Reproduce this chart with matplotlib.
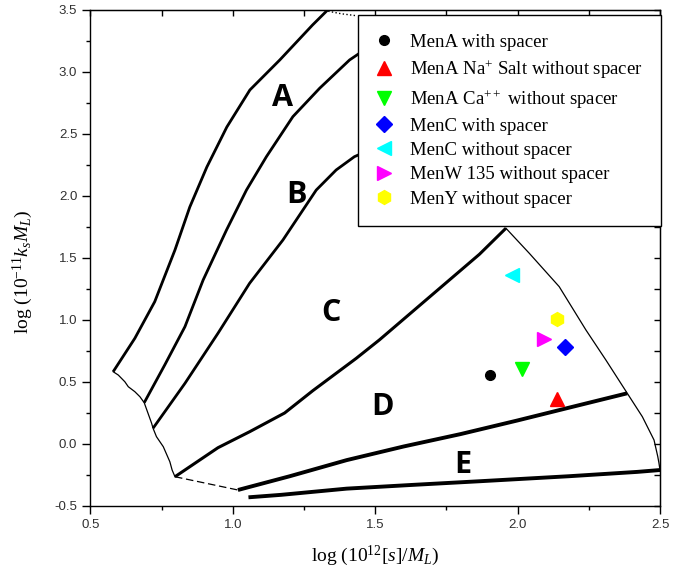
import matplotlib
matplotlib.use('Agg')
import matplotlib.pyplot as plt
from matplotlib.ticker import MultipleLocator

# zone boundaries
curve_a_x = [0.580, 0.656, 0.726, 0.797, 0.849, 0.909, 0.979, 1.060, 1.165, 1.280, 1.333]
curve_a_y = [0.583, 0.852, 1.148, 1.565, 1.911, 2.234, 2.556, 2.855, 3.097, 3.379, 3.500]
curve_ab_x = [0.689, 0.761, 0.832, 0.896, 0.978, 1.048, 1.118, 1.211, 1.305, 1.410, 1.470]
curve_ab_y = [0.333, 0.637, 0.946, 1.323, 1.726, 2.048, 2.317, 2.640, 2.869, 3.097, 3.190]
curve_bc_x = [0.720, 0.832, 0.948, 1.059, 1.176, 1.293, 1.363, 1.427, 1.500]
curve_bc_y = [0.127, 0.489, 0.893, 1.296, 1.645, 2.048, 2.210, 2.317, 2.390]
curve_cd_x = [0.797, 0.948, 1.060, 1.182, 1.281, 1.433, 1.515, 1.632, 1.749, 1.866, 1.959]
curve_cd_y = [-0.264, -0.030, 0.100, 0.250, 0.430, 0.690, 0.840, 1.070, 1.300, 1.530, 1.740]
curve_de_x = [1.018, 1.200, 1.400, 1.600, 1.800, 2.000, 2.200, 2.385]
curve_de_y = [-0.371, -0.260, -0.130, -0.020, 0.080, 0.190, 0.304, 0.409]
curve_e_x = [1.055, 1.170, 1.400, 1.630, 1.870, 2.180, 2.420, 2.500]
curve_e_y = [-0.430, -0.410, -0.360, -0.330, -0.300, -0.260, -0.225, -0.210]

# thin outline of the whole region
edge_left_x = [0.580, 0.598, 0.621, 0.633, 0.656, 0.674, 0.689, 0.715, 0.720, 0.732, 0.756, 0.779, 0.787, 0.797]
edge_left_y = [0.583, 0.556, 0.502, 0.462, 0.422, 0.381, 0.333, 0.167, 0.127, 0.059, -0.022, -0.143, -0.210, -0.264]
edge_right_x = [1.959, 2.041, 2.146, 2.240, 2.310, 2.385, 2.438, 2.479, 2.492, 2.496, 2.500]
edge_right_y = [1.740, 1.538, 1.269, 0.919, 0.677, 0.409, 0.220, 0.032, -0.100, -0.150, -0.210]
edge_bottom_x = [0.797, 1.018]
edge_bottom_y = [-0.264, -0.371]
edge_top_x = [1.335, 1.380, 1.430]
edge_top_y = [3.490, 3.470, 3.455]

zone_names = ['A', 'B', 'C', 'D', 'E']
zone_x = [1.174, 1.223, 1.343, 1.527, 1.807]
zone_y = [2.788, 2.008, 1.054, 0.301, -0.169]

# measured samples
sample_names = ['MenA with spacer', 'MenA Na$^{+}$ Salt without spacer', 'MenA Ca$^{++}$ without spacer',
                'MenC with spacer', 'MenC without spacer', 'MenW 135 without spacer', 'MenY without spacer']
sample_x = [1.903, 2.140, 2.015, 2.166, 1.982, 2.091, 2.140]
sample_y = [0.554, 0.363, 0.602, 0.780, 1.363, 0.847, 1.006]
sample_marker = ['o', '^', 'v', 'D', '<', '>', 'h']
sample_color = ['#000000', '#FF0000', '#00FF00', '#0000FF', '#00FFFF', '#FF00FF', '#FFFF00']
sample_size = [7, 10, 10, 8, 10, 10, 10]

plt.rcParams['mathtext.fontset'] = 'custom'
plt.rcParams['mathtext.rm'] = 'Liberation Serif'
plt.rcParams['mathtext.it'] = 'Liberation Serif:italic'

fig = plt.figure(figsize=(6.75, 5.81), dpi=100)
ax = fig.add_axes([0.1339, 0.1291, 0.8439, 0.8537])

for cx, cy, lw in [(curve_a_x, curve_a_y, 2.0), (curve_ab_x, curve_ab_y, 2.0), (curve_bc_x, curve_bc_y, 2.0),
                   (curve_cd_x, curve_cd_y, 2.2), (curve_de_x, curve_de_y, 2.8), (curve_e_x, curve_e_y, 2.8)]:
    ax.plot(cx, cy, color='black', lw=lw, solid_capstyle='butt', zorder=2)

ax.plot(edge_left_x, edge_left_y, color='black', lw=0.9, zorder=2)
ax.plot(edge_right_x, edge_right_y, color='black', lw=0.9, zorder=2)
ax.plot(edge_bottom_x, edge_bottom_y, color='black', lw=0.9, ls=(0, (6, 3)), zorder=2)
ax.plot(edge_top_x, edge_top_y, color='black', lw=1.0, ls=':', zorder=2)

for name, x, y in zip(zone_names, zone_x, zone_y):
    ax.text(x, y, name, fontsize=22, fontweight='bold', family='Open Sans', ha='center', va='center')

for i in range(len(sample_names)):
    ax.plot(sample_x[i], sample_y[i], ls='none', marker=sample_marker[i], ms=sample_size[i],
            color=sample_color[i], mec=sample_color[i], label=sample_names[i], zorder=3)

ax.set_xlim(0.5, 2.5)
ax.set_ylim(-0.5, 3.5)
ax.xaxis.set_major_locator(MultipleLocator(0.5))
ax.xaxis.set_minor_locator(MultipleLocator(0.25))
ax.yaxis.set_major_locator(MultipleLocator(0.5))
ax.yaxis.set_minor_locator(MultipleLocator(0.25))
ax.xaxis.set_major_formatter(lambda v, p: '%.1f' % v)
ax.yaxis.set_major_formatter(lambda v, p: '%.1f' % v)
ax.tick_params(which='major', direction='out', length=6, width=1, labelsize=9.5, labelcolor='#303030')
ax.tick_params(which='minor', direction='out', length=3, width=1)
for lab in ax.get_xticklabels() + ax.get_yticklabels():
    lab.set_family('Liberation Sans')
for s in ax.spines.values():
    s.set_linewidth(1.0)

# ticks pointing inwards on the opposite sides
top = ax.secondary_xaxis('top')
top.xaxis.set_major_locator(MultipleLocator(0.25))
top.tick_params(direction='in', length=4, width=1, labeltop=False)
right = ax.secondary_yaxis('right')
right.yaxis.set_major_locator(MultipleLocator(0.25))
right.tick_params(direction='in', length=4, width=1, labelright=False)

ax.set_xlabel(r'log (10$^{12}$$\mathit{[s]/M_L}$)', family='Liberation Serif', fontsize=14, labelpad=9)
ax.set_ylabel(r'log (10$^{-11}$$\mathit{k_s M_L}$)', family='Liberation Serif', fontsize=14)
ax.yaxis.set_label_coords(-0.097, 0.471)

leg = ax.legend(loc='upper right', bbox_to_anchor=(661 / 675, 1 - 15 / 581), bbox_transform=fig.transFigure,
                borderaxespad=0, prop={'family': 'Liberation Serif', 'size': 13.5}, frameon=True,
                fancybox=False, framealpha=1, edgecolor='black', handlelength=0.8, handletextpad=0.96,
                borderpad=1.0, labelspacing=0.38, numpoints=1)
leg.get_frame().set_linewidth(1.0)
leg.set_zorder(5)

fig.savefig('out.png', dpi=100)
